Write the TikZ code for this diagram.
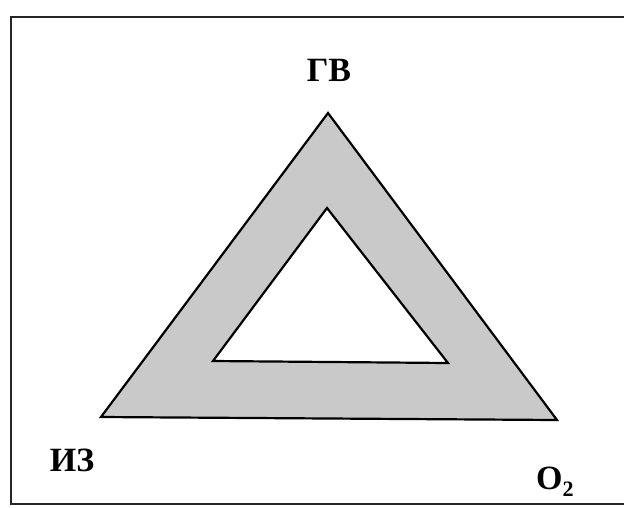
\documentclass[tikz,border=0pt]{standalone}
\usepackage{fontspec}
\setmainfont{Liberation Serif}
\begin{document}
\begin{tikzpicture}[x=1pt,y=-1pt,
  frameline/.style={line width=1.8pt,black!85},
  edge/.style={line width=2.2pt,black},
  lbl/.style={font=\bfseries\fontsize{34}{38}\selectfont,inner sep=0pt}]
\useasboundingbox (0,0) rectangle (624,507);
\coordinate (fa) at (624,17);
\coordinate (fb) at (11,17);
\coordinate (fc) at (11,504);
\coordinate (fd) at (624,504);
\draw[frameline] (fa) -- (fb) -- (fc) -- (fd);
\coordinate (A) at (328,113);
\coordinate (B) at (101,417);
\coordinate (C) at (557,420);
\coordinate (a) at (327,208);
\coordinate (b) at (213,361);
\coordinate (c) at (448,363);
\fill[gray!42,even odd rule] (A) -- (B) -- (C) -- cycle (a) -- (b) -- (c) -- cycle;
\draw[edge,line join=miter] (A) -- (B) -- (C) -- cycle;
\draw[edge,line join=miter] (a) -- (b) -- (c) -- cycle;
\node[lbl] (gv) at (329,70) {ГВ};
\node[lbl] (iz) at (72,460) {ИЗ};
\node[lbl,anchor=base west] (o2) at (536,489) {O\raisebox{-0.22em}{\fontsize{22}{22}\selectfont 2}};
\end{tikzpicture}
\end{document}
